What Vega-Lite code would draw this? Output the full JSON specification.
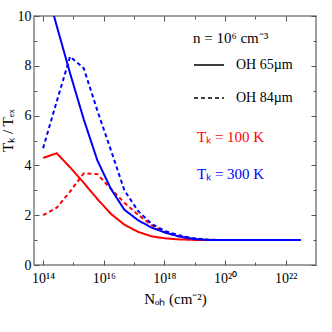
{
  "$schema": "https://vega.github.io/schema/vega-lite/v6.json",
  "width": 282,
  "height": 249,
  "autosize": {"type": "none"},
  "padding": {"left": 34, "top": 16, "right": 16, "bottom": 67},
  "background": "white",
  "config": {
    "font": "Liberation Serif",
    "view": {"stroke": "#808080", "strokeWidth": 1.5},
    "axis": {
      "domain": false, "grid": false,
      "labelFont": "Liberation Serif", "labelFontSize": 14, "labelColor": "#000",
      "tickColor": "#555", "tickWidth": 1,
      "titleFont": "Liberation Serif", "titleFontSize": 15, "titleFontWeight": "normal", "titleColor": "#000"
    },
    "legend": {
      "labelFont": "Liberation Serif", "titleFont": "Liberation Serif",
      "labelFontSize": 14, "titleFontSize": 15, "titleFontWeight": "normal", "labelColor": "#000", "titleColor": "#000"
    }
  },
  "data": {"values": [
    {"N": 1e14, "ratio": 4.30, "Tk": "100 K", "line": "OH 65µm"},
    {"N": 2.818e14, "ratio": 4.49, "Tk": "100 K", "line": "OH 65µm"},
    {"N": 7.762e14, "ratio": 3.92, "Tk": "100 K", "line": "OH 65µm"},
    {"N": 2.188e15, "ratio": 3.30, "Tk": "100 K", "line": "OH 65µm"},
    {"N": 6.166e15, "ratio": 2.65, "Tk": "100 K", "line": "OH 65µm"},
    {"N": 1.738e16, "ratio": 2.05, "Tk": "100 K", "line": "OH 65µm"},
    {"N": 4.786e16, "ratio": 1.62, "Tk": "100 K", "line": "OH 65µm"},
    {"N": 1.349e17, "ratio": 1.33, "Tk": "100 K", "line": "OH 65µm"},
    {"N": 3.802e17, "ratio": 1.15, "Tk": "100 K", "line": "OH 65µm"},
    {"N": 1.072e18, "ratio": 1.07, "Tk": "100 K", "line": "OH 65µm"},
    {"N": 2.951e18, "ratio": 1.03, "Tk": "100 K", "line": "OH 65µm"},
    {"N": 8.318e18, "ratio": 1.01, "Tk": "100 K", "line": "OH 65µm"},
    {"N": 2.344e19, "ratio": 1.00, "Tk": "100 K", "line": "OH 65µm"},
    {"N": 6.607e19, "ratio": 1.00, "Tk": "100 K", "line": "OH 65µm"},
    {"N": 5.129e20, "ratio": 1.00, "Tk": "100 K", "line": "OH 65µm"},
    {"N": 4.074e21, "ratio": 1.00, "Tk": "100 K", "line": "OH 65µm"},
    {"N": 3.162e22, "ratio": 1.00, "Tk": "100 K", "line": "OH 65µm"},

    {"N": 1e14, "ratio": 2.00, "Tk": "100 K", "line": "OH 84µm"},
    {"N": 2.818e14, "ratio": 2.30, "Tk": "100 K", "line": "OH 84µm"},
    {"N": 7.762e14, "ratio": 2.95, "Tk": "100 K", "line": "OH 84µm"},
    {"N": 2.188e15, "ratio": 3.68, "Tk": "100 K", "line": "OH 84µm"},
    {"N": 6.166e15, "ratio": 3.65, "Tk": "100 K", "line": "OH 84µm"},
    {"N": 1.738e16, "ratio": 3.05, "Tk": "100 K", "line": "OH 84µm"},
    {"N": 4.786e16, "ratio": 2.50, "Tk": "100 K", "line": "OH 84µm"},
    {"N": 1.349e17, "ratio": 2.02, "Tk": "100 K", "line": "OH 84µm"},
    {"N": 3.802e17, "ratio": 1.60, "Tk": "100 K", "line": "OH 84µm"},
    {"N": 1.072e18, "ratio": 1.30, "Tk": "100 K", "line": "OH 84µm"},
    {"N": 2.951e18, "ratio": 1.15, "Tk": "100 K", "line": "OH 84µm"},
    {"N": 8.318e18, "ratio": 1.06, "Tk": "100 K", "line": "OH 84µm"},
    {"N": 2.344e19, "ratio": 1.02, "Tk": "100 K", "line": "OH 84µm"},
    {"N": 6.607e19, "ratio": 1.00, "Tk": "100 K", "line": "OH 84µm"},
    {"N": 5.129e20, "ratio": 1.00, "Tk": "100 K", "line": "OH 84µm"},
    {"N": 4.074e21, "ratio": 1.00, "Tk": "100 K", "line": "OH 84µm"},
    {"N": 3.162e22, "ratio": 1.00, "Tk": "100 K", "line": "OH 84µm"},

    {"N": 1e14, "ratio": 11.6, "Tk": "300 K", "line": "OH 65µm"},
    {"N": 2.818e14, "ratio": 9.6, "Tk": "300 K", "line": "OH 65µm"},
    {"N": 7.762e14, "ratio": 7.7, "Tk": "300 K", "line": "OH 65µm"},
    {"N": 2.188e15, "ratio": 5.85, "Tk": "300 K", "line": "OH 65µm"},
    {"N": 6.166e15, "ratio": 4.20, "Tk": "300 K", "line": "OH 65µm"},
    {"N": 1.738e16, "ratio": 3.05, "Tk": "300 K", "line": "OH 65µm"},
    {"N": 4.786e16, "ratio": 2.22, "Tk": "300 K", "line": "OH 65µm"},
    {"N": 1.349e17, "ratio": 1.80, "Tk": "300 K", "line": "OH 65µm"},
    {"N": 3.802e17, "ratio": 1.50, "Tk": "300 K", "line": "OH 65µm"},
    {"N": 1.072e18, "ratio": 1.30, "Tk": "300 K", "line": "OH 65µm"},
    {"N": 2.951e18, "ratio": 1.15, "Tk": "300 K", "line": "OH 65µm"},
    {"N": 8.318e18, "ratio": 1.05, "Tk": "300 K", "line": "OH 65µm"},
    {"N": 2.344e19, "ratio": 1.01, "Tk": "300 K", "line": "OH 65µm"},
    {"N": 6.607e19, "ratio": 1.00, "Tk": "300 K", "line": "OH 65µm"},
    {"N": 5.129e20, "ratio": 1.00, "Tk": "300 K", "line": "OH 65µm"},
    {"N": 4.074e21, "ratio": 1.00, "Tk": "300 K", "line": "OH 65µm"},
    {"N": 3.162e22, "ratio": 1.00, "Tk": "300 K", "line": "OH 65µm"},

    {"N": 1e14, "ratio": 4.69, "Tk": "300 K", "line": "OH 84µm"},
    {"N": 2.818e14, "ratio": 6.57, "Tk": "300 K", "line": "OH 84µm"},
    {"N": 7.762e14, "ratio": 8.37, "Tk": "300 K", "line": "OH 84µm"},
    {"N": 2.188e15, "ratio": 7.90, "Tk": "300 K", "line": "OH 84µm"},
    {"N": 6.166e15, "ratio": 6.20, "Tk": "300 K", "line": "OH 84µm"},
    {"N": 1.738e16, "ratio": 4.60, "Tk": "300 K", "line": "OH 84µm"},
    {"N": 4.786e16, "ratio": 3.00, "Tk": "300 K", "line": "OH 84µm"},
    {"N": 1.349e17, "ratio": 2.17, "Tk": "300 K", "line": "OH 84µm"},
    {"N": 3.802e17, "ratio": 1.65, "Tk": "300 K", "line": "OH 84µm"},
    {"N": 1.072e18, "ratio": 1.36, "Tk": "300 K", "line": "OH 84µm"},
    {"N": 2.951e18, "ratio": 1.20, "Tk": "300 K", "line": "OH 84µm"},
    {"N": 8.318e18, "ratio": 1.08, "Tk": "300 K", "line": "OH 84µm"},
    {"N": 2.344e19, "ratio": 1.02, "Tk": "300 K", "line": "OH 84µm"},
    {"N": 6.607e19, "ratio": 1.00, "Tk": "300 K", "line": "OH 84µm"},
    {"N": 5.129e20, "ratio": 1.00, "Tk": "300 K", "line": "OH 84µm"},
    {"N": 4.074e21, "ratio": 1.00, "Tk": "300 K", "line": "OH 84µm"},
    {"N": 3.162e22, "ratio": 1.00, "Tk": "300 K", "line": "OH 84µm"}
  ]},
  "layer": [
    {
      "mark": {"type": "line", "clip": true, "strokeWidth": 2},
      "encoding": {
        "x": {
          "field": "N", "type": "quantitative",
          "scale": {"type": "log", "domain": [5.012e13, 1e23], "nice": false},
          "axis": {
            "orient": "bottom",
            "values": [1e14, 1e15, 1e16, 1e17, 1e18, 1e19, 1e20, 1e21, 1e22],
            "labelExpr": "round(log(datum.value)/LN10)==14 ? '10¹⁴' : round(log(datum.value)/LN10)==16 ? '10¹⁶' : round(log(datum.value)/LN10)==18 ? '10¹⁸' : round(log(datum.value)/LN10)==20 ? '10²⁰' : round(log(datum.value)/LN10)==22 ? '10²²' : ''",
            "tickSize": {"condition": {"test": "round(log(datum.value)/LN10) % 2 == 0", "value": -5}, "value": -3},
            "labelPadding": 11,
            "labelFlush": false,
            "labelOverlap": false,
            "title": "Nₒₕ (cm⁻²)",
            "titlePadding": 4
          }
        },
        "y": {
          "field": "ratio", "type": "quantitative",
          "scale": {"domain": [0, 10], "nice": false},
          "axis": {
            "orient": "left",
            "values": [0, 1, 2, 3, 4, 5, 6, 7, 8, 9, 10],
            "labelExpr": "datum.value % 2 == 0 ? datum.label : ''",
            "tickSize": {"condition": {"test": "datum.value % 2 == 0", "value": -5}, "value": -3},
            "labelPadding": 8,
            "title": "Tₖ / Tₑₓ",
            "titleX": -22,
            "titleY": 114,
            "titleAngle": -90,
            "titleAlign": "center",
            "titleBaseline": "alphabetic"
          }
        },
        "color": {
          "field": "Tk", "type": "nominal",
          "scale": {"domain": ["100 K", "300 K"], "range": ["#ff0000", "#0000ff"]},
          "legend": {
            "orient": "none", "legendX": 148, "legendY": 113,
            "title": null,
            "symbolSize": 0, "symbolOpacity": 0, "labelOffset": 0,
            "rowPadding": 21,
            "labelFontSize": 15,
            "labelExpr": "'Tₖ = ' + datum.label",
            "encode": {"labels": {"update": {"fill": {"scale": "color", "field": "value"}}}}
          }
        },
        "strokeDash": {
          "field": "line", "type": "nominal",
          "scale": {"domain": ["OH 65µm", "OH 84µm"], "range": [[1, 0], [4, 3]]},
          "legend": {
            "orient": "none", "legendX": 159, "legendY": 15,
            "title": "n = 10⁶ cm⁻³",
            "titlePadding": 3,
            "symbolType": "stroke", "symbolSize": 900,
            "symbolStrokeColor": "#000", "symbolStrokeWidth": 1.5,
            "labelOffset": 11,
            "rowPadding": 10
          }
        }
      }
    },
    {
      "mark": {"type": "point", "opacity": 0},
      "encoding": {
        "x": {
          "field": "N", "type": "quantitative",
          "axis": {
            "orient": "top",
            "values": [1e14, 1e15, 1e16, 1e17, 1e18, 1e19, 1e20, 1e21, 1e22],
            "labels": false, "title": null,
            "tickSize": {"condition": {"test": "round(log(datum.value)/LN10) % 2 == 0", "value": -5}, "value": -3}
          }
        },
        "y": {
          "field": "ratio", "type": "quantitative",
          "axis": {
            "orient": "right",
            "values": [0, 1, 2, 3, 4, 5, 6, 7, 8, 9, 10],
            "labels": false, "title": null,
            "tickSize": {"condition": {"test": "datum.value % 2 == 0", "value": -5}, "value": -3}
          }
        }
      }
    }
  ],
  "resolve": {"axis": {"x": "independent", "y": "independent"}}
}
